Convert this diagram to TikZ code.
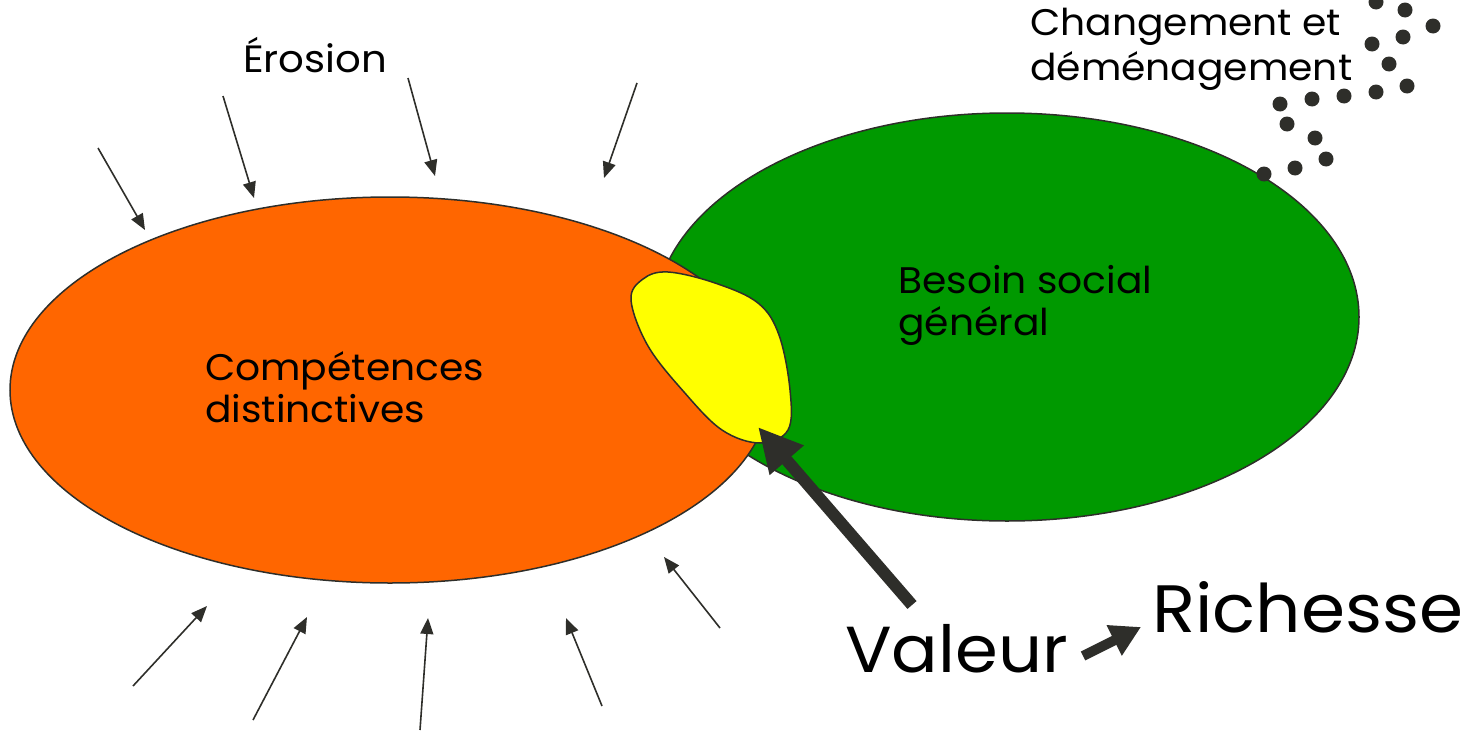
\documentclass[tikz,border=0pt]{standalone}
\usepackage{fontspec}
\setmainfont{Poppins}[FakeStretch=1.06]
\usetikzlibrary{arrows.meta}
\definecolor{orng}{HTML}{FF6600}
\definecolor{grn}{HTML}{009900}
\definecolor{yel}{HTML}{FFFF00}
\definecolor{ink}{HTML}{2E2E2A}
\tikzset{
  blob/.style={draw=ink, line width=1.5pt},
  thinarrow/.style={draw=ink, line width=1.6pt, -{Triangle[length=16pt,width=13pt]}},
  dot/.style={circle, fill=ink, minimum size=15pt, inner sep=0pt},
  lbl/.style={anchor=base west, inner sep=0pt, align=left},
}
\begin{document}
\begin{tikzpicture}[x=1pt,y=-1pt]
\useasboundingbox (0,0) rectangle (1480,736);
% green ellipse
\draw[blob, fill=grn] (1007,317) ellipse [x radius=352, y radius=204];
% orange ellipse
\draw[blob, fill=orng] (390,390) ellipse [x radius=380, y radius=193];
% yellow blob
\draw[blob, fill=yel] plot[smooth cycle, tension=0.6] coordinates {
 (631,300) (643,279) (668,272) (715,283) (758,303) (779,335) (790,390) (788,430) (760,443) (722,430) (684,392) (648,346)};
% texts (base anchor = baseline of last line)
\node[lbl, font=\fontsize{38}{44}\selectfont] (ero) at (243,72) {Érosion};
\node[lbl, font=\fontsize{37}{45}\selectfont] (chg) at (1030,80) {Changement et\\déménagement};
\node[lbl, font=\fontsize{37}{42}\selectfont] (comp) at (205,422) {Compétences\\distinctives};
\node[lbl, font=\fontsize{37}{42}\selectfont] (bes) at (898,335) {Besoin social\\général};
\node[lbl, font=\fontsize{65}{70}\selectfont] (val) at (845,672) {Valeur};
\node[lbl, font=\fontsize{67}{70}\selectfont] (ric) at (1152,632) {Richesse};
% big arrow
\coordinate (bigs) at (912,605);
\coordinate (bigt) at (758,427);
\draw[draw=ink, line width=12pt, -{Triangle[length=44pt,width=42pt]}] (bigs) -- (bigt);
% small arrow
\coordinate (sms) at (1083,656);
\coordinate (smt) at (1141,627);
\draw[draw=ink, line width=10pt, -{Triangle[length=30pt,width=32pt]}] (sms) -- (smt);
% erosion arrows top
\coordinate (t1s) at (98,148);  \coordinate (t1e) at (145,230);
\coordinate (t2s) at (223,96);  \coordinate (t2e) at (254,198);
\coordinate (t3s) at (408,78);  \coordinate (t3e) at (435,176);
\coordinate (t4s) at (637,83);  \coordinate (t4e) at (604,178);
\draw[thinarrow] (t1s) -- (t1e);
\draw[thinarrow] (t2s) -- (t2e);
\draw[thinarrow] (t3s) -- (t3e);
\draw[thinarrow] (t4s) -- (t4e);
% erosion arrows bottom
\coordinate (b1s) at (133,686); \coordinate (b1e) at (207,606);
\coordinate (b2s) at (253,720); \coordinate (b2e) at (307,617);
\coordinate (b3s) at (420,730); \coordinate (b3e) at (428,618);
\coordinate (b4s) at (602,706); \coordinate (b4e) at (566,618);
\coordinate (b5s) at (720,628); \coordinate (b5e) at (664,557);
\draw[thinarrow] (b1s) -- (b1e);
\draw[thinarrow] (b2s) -- (b2e);
\draw[thinarrow] (b3s) -- (b3e);
\draw[thinarrow] (b4s) -- (b4e);
\draw[thinarrow] (b5s) -- (b5e);
% dots
\foreach \p [count=\i] in {(1376,2),(1405,10),(1433,26),(1372,44),(1403,37),(1389,64),(1407,86),(1376,92),(1344,96),(1312,99),(1280,104),(1287,124),(1315,138),(1326,159),(1295,168),(1264,174)}
  \node[dot] (d\i) at \p {};
\end{tikzpicture}
\end{document}
